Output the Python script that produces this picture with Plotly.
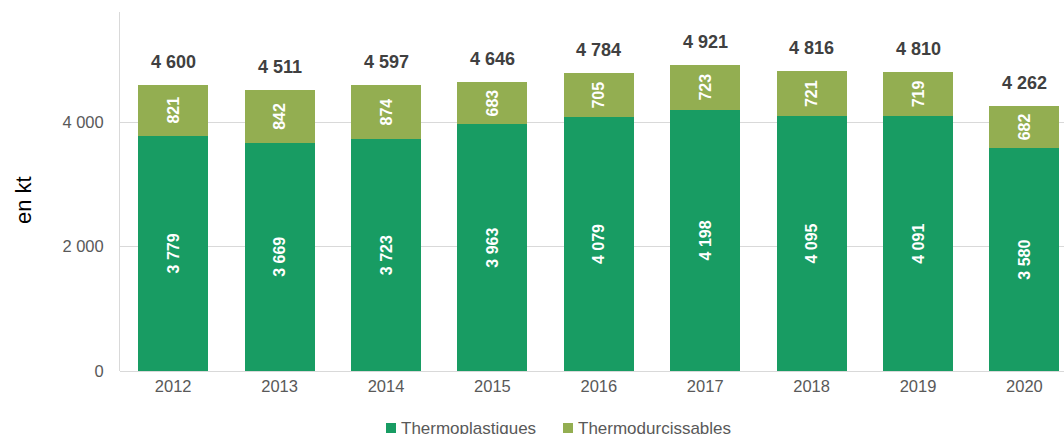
import plotly.graph_objects as go

annees = ["2012", "2013", "2014", "2015", "2016", "2017", "2018", "2019", "2020"]
thermoplastiques = [3779, 3669, 3723, 3963, 4079, 4198, 4095, 4091, 3580]
thermodurcissables = [821, 842, 874, 683, 705, 723, 721, 719, 682]
totaux = [a + b for a, b in zip(thermoplastiques, thermodurcissables)]

VERT_FONCE = "#189C63"
VERT_CLAIR = "#93AE51"
GRIS = "#595959"
POLICE = "Liberation Sans, Arial, sans-serif"

# plot area geometry in pixels (used to place the legend in paper units)
W, H = 1064, 434
ML, MT, MB = 120, 12, 63
PW, PH = W - ML, H - MT - MB


def px_x(px):
    return (px - ML) / PW


def px_y(py):
    return (H - MB - py) / PH


series = [
    ("Thermoplastiques", thermoplastiques, VERT_FONCE),
    ("Thermodurcissables", thermodurcissables, VERT_CLAIR),
]

fig = go.Figure()
for nom, valeurs, couleur in series:
    fig.add_trace(go.Bar(
        x=annees, y=valeurs, name=nom,
        marker=dict(color=couleur, line=dict(width=0)),
        texttemplate="%{y:,}", textposition="inside", textangle=-90,
        insidetextanchor="middle", constraintext="none",
        textfont=dict(family=POLICE, size=16, color="white", weight="bold"),
        hoverinfo="skip", showlegend=False,
    ))

# Totals above each stacked bar
for i, total in enumerate(totaux):
    fig.add_annotation(
        x=i, y=total, yshift=23, showarrow=False,
        text=f"{total:,}".replace(",", " "),
        font=dict(family=POLICE, size=18, color="#404040", weight="bold"),
    )

# Axis title
fig.add_annotation(
    xref="paper", yref="paper", x=px_x(23), y=px_y(200),
    xanchor="center", yanchor="middle",
    text="en kt", textangle=-90, showarrow=False,
    font=dict(family=POLICE, size=22, color="#000000"),
)

# Legend below the axis: square swatch + label
legende_x = [386, 563]
for (nom, _, couleur), x0 in zip(series, legende_x):
    fig.add_shape(
        type="rect", xref="paper", yref="paper",
        x0=px_x(x0), x1=px_x(x0 + 10), y0=px_y(433), y1=px_y(423),
        fillcolor=couleur, line=dict(width=0),
    )
    fig.add_annotation(
        xref="paper", yref="paper", x=px_x(x0 + 13), y=px_y(428),
        xanchor="left", yanchor="middle", showarrow=False,
        text=nom, font=dict(family=POLICE, size=17, color=GRIS),
    )

fig.update_layout(
    width=W, height=H,
    margin=dict(l=ML, r=0, t=MT, b=MB),
    barmode="stack", bargap=0.342,
    separators=". ",
    plot_bgcolor="white", paper_bgcolor="white",
    font=dict(family=POLICE, size=16, color=GRIS),
    showlegend=False,
    xaxis=dict(
        type="category", range=[-0.5, 8.372],
        showgrid=False, showline=False, ticks="",
        ticklabelstandoff=3,
        tickfont=dict(family=POLICE, size=16.5, color=GRIS),
    ),
    yaxis=dict(
        range=[0, 5767], tickvals=[0, 2000, 4000],
        tickformat=",d",
        showgrid=True, gridcolor="#D9D9D9", gridwidth=1,
        zeroline=True, zerolinecolor="#D9D9D9", zerolinewidth=1,
        showline=True, linecolor="#D9D9D9", linewidth=1,
        ticks="", ticklabelstandoff=12,
        tickfont=dict(family=POLICE, size=16.5, color=GRIS),
    ),
)

fig.write_html("out.html")
